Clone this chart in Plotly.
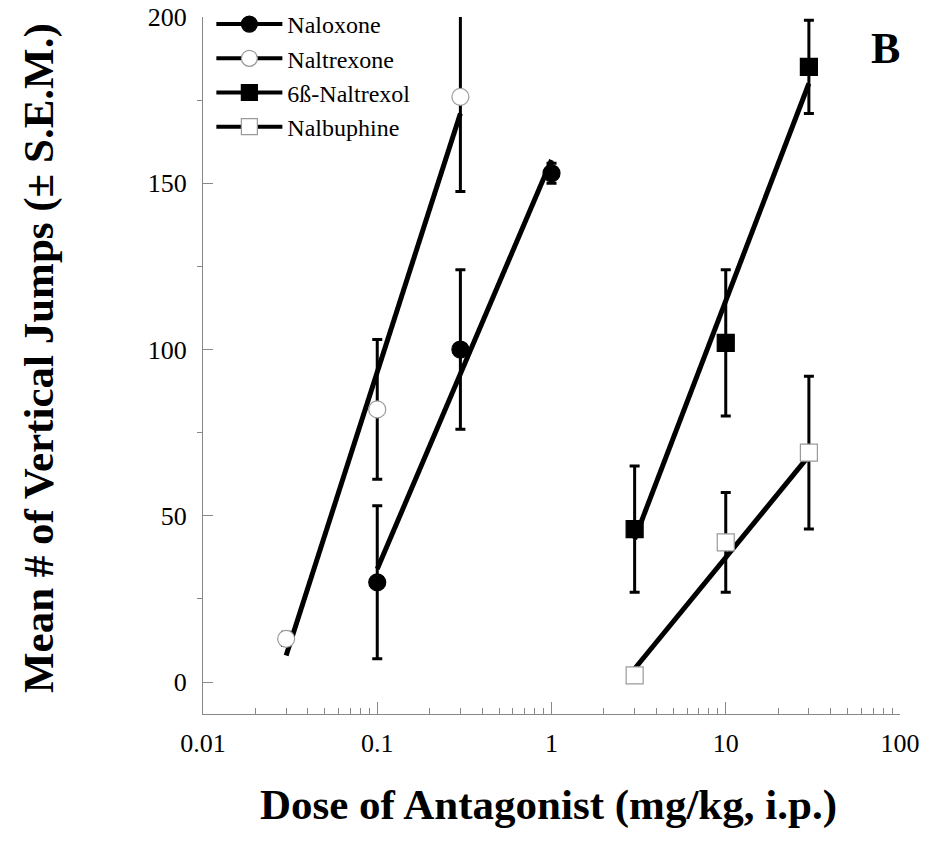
import plotly.graph_objects as go

# ---- data ----
naloxone_dose = [0.1, 0.3, 1]
naloxone_mean = [30, 100, 153]
naloxone_sem = [23, 24, 3]
naloxone_fit_x = [0.1, 1]
naloxone_fit_y = [34, 157]

naltrexone_dose = [0.03, 0.1, 0.3]
naltrexone_mean = [13, 82, 176]
naltrexone_sem = [2, 21, 28.5]
naltrexone_fit_x = [0.03, 0.3]
naltrexone_fit_y = [8, 171]

naltrexol_dose = [3, 10, 30]
naltrexol_mean = [46, 102, 185]
naltrexol_sem = [19, 22, 14]
naltrexol_fit_x = [3, 30]
naltrexol_fit_y = [43, 180]

nalbuphine_dose = [3, 10, 30]
nalbuphine_mean = [2, 42, 69]
nalbuphine_sem = [2, 15, 23]
nalbuphine_fit_x = [3, 30]
nalbuphine_fit_y = [4, 68]

series_names = ["Naloxone", "Naltrexone", "6ß-Naltrexol", "Nalbuphine"]
y_ticks = [0, 50, 100, 150, 200]
x_ticks = [0.01, 0.1, 1, 10, 100]
x_tick_labels = ["0.01", "0.1", "1", "10", "100"]

FONT = "Times New Roman, Liberation Serif, serif"

series = [
    (naloxone_dose, naloxone_mean, naloxone_sem, naloxone_fit_x, naloxone_fit_y, "circle", "black", "black"),
    (naltrexone_dose, naltrexone_mean, naltrexone_sem, naltrexone_fit_x, naltrexone_fit_y, "circle", "white", "#9a9a9a"),
    (naltrexol_dose, naltrexol_mean, naltrexol_sem, naltrexol_fit_x, naltrexol_fit_y, "square", "black", "black"),
    (nalbuphine_dose, nalbuphine_mean, nalbuphine_sem, nalbuphine_fit_x, nalbuphine_fit_y, "square", "white", "#9a9a9a"),
]

fig = go.Figure()

# regression lines first
for (d, m, s, fx, fy, sym, fill, edge), name in zip(series, series_names):
    fig.add_trace(go.Scatter(x=fx, y=fy, mode="lines", line=dict(color="black", width=5),
                             showlegend=False, hoverinfo="skip"))

# points with error bars
for (d, m, s, fx, fy, sym, fill, edge), name in zip(series, series_names):
    fig.add_trace(go.Scatter(
        x=d, y=m, mode="markers", showlegend=False,
        marker=dict(symbol=sym, size=17, color=fill, line=dict(color=edge, width=1.2)),
        error_y=dict(type="data", array=s, visible=True, color="black", thickness=3, width=5),
    ))

# legend entries
for (d, m, s, fx, fy, sym, fill, edge), name in zip(series, series_names):
    fig.add_trace(go.Scatter(
        x=[None], y=[None], mode="lines+markers", name=name,
        line=dict(color="black", width=4),
        marker=dict(symbol=sym, size=16, color=fill, line=dict(color=edge, width=1.2)),
    ))

fig.update_layout(
    width=933, height=843,
    margin=dict(l=203, r=33, t=17, b=129, autoexpand=False),
    paper_bgcolor="white", plot_bgcolor="white",
    font=dict(family=FONT, color="black"),
    showlegend=True,
    legend=dict(x=0.012, y=1.0215, xanchor="left", yanchor="top",
                font=dict(family=FONT, size=24, color="black"),
                bgcolor="rgba(0,0,0,0)", borderwidth=0, itemwidth=66,
                tracegroupgap=0),
    annotations=[
        dict(text="Dose of Antagonist (mg/kg, i.p.)", xref="paper", yref="paper",
             x=0.495, y=-0.13, xanchor="center", yanchor="middle", showarrow=False,
             font=dict(family=FONT, size=43, color="black", weight="bold")),
        dict(text="Mean # of Vertical Jumps (± S.E.M.)", xref="paper", yref="paper",
             x=-0.236, y=0.51, xanchor="center", yanchor="middle", showarrow=False,
             textangle=-90,
             font=dict(family=FONT, size=43, color="black", weight="bold")),
        dict(text="B", xref="paper", yref="paper", x=0.979, y=0.9555,
             xanchor="center", yanchor="middle", showarrow=False,
             font=dict(family=FONT, size=44, color="black", weight="bold")),
    ],
)

fig.update_xaxes(
    type="log", range=[-2, 2], automargin=False,
    tickmode="array", tickvals=x_ticks, ticktext=x_tick_labels,
    ticks="inside", ticklen=12, tickwidth=1, tickcolor="#888",
    minor=dict(ticks="inside", ticklen=6, tickwidth=1, tickcolor="#888",
               tickvals=[v * k for v in [0.01, 0.1, 1, 10] for k in range(2, 10)], showgrid=False),
    showline=True, linecolor="#888", linewidth=1,
    showgrid=False, zeroline=False,
    tickfont=dict(family=FONT, size=26, color="black"),
    ticklabelstandoff=6, ticklabeloverflow="allow",
)

fig.update_yaxes(
    range=[-9.6, 200], automargin=False,
    tickmode="array", tickvals=y_ticks,
    ticks="inside", ticklen=10, tickwidth=1, tickcolor="#888",
    minor=dict(ticks="outside", ticklen=5, tickwidth=1, tickcolor="#888",
               tickvals=[25, 75, 125, 175], showgrid=False),
    showline=True, linecolor="#888", linewidth=1,
    showgrid=False, zeroline=False,
    tickfont=dict(family=FONT, size=26, color="black"),
    ticklabelstandoff=10, ticklabeloverflow="allow",
)

fig.write_html("out.html", config={"displayModeBar": False},
               post_script="document.body.style.margin='0px';")
